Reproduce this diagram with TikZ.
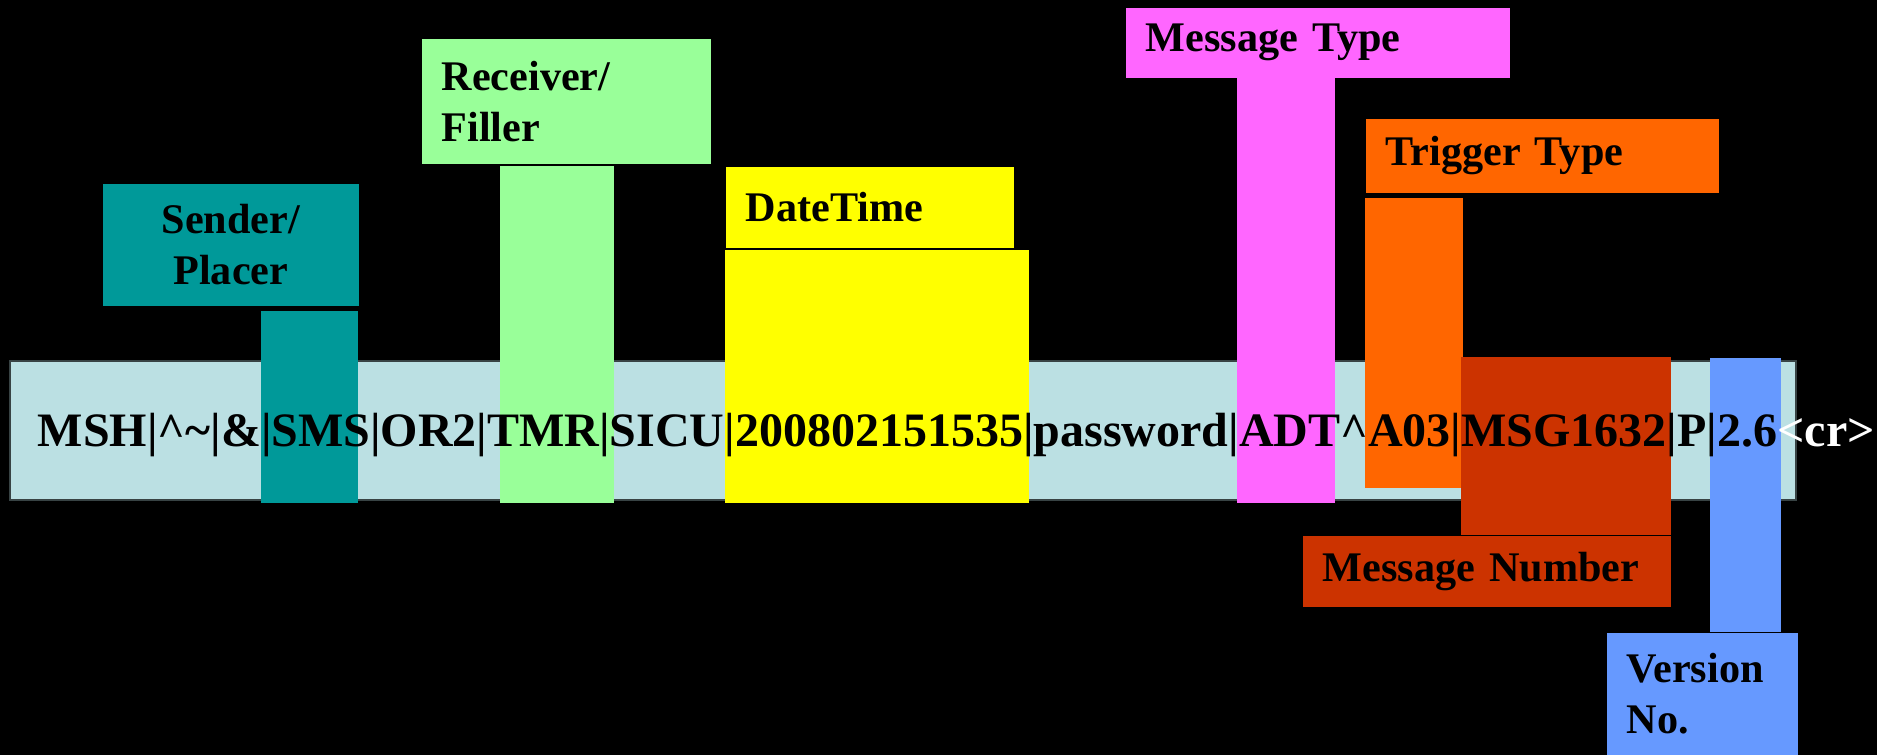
\documentclass[tikz,border=0pt]{standalone}
\usepackage{fontspec}
\setmainfont{Liberation Serif}
\usetikzlibrary{positioning}
\definecolor{segband}{HTML}{BBE0E3}
\definecolor{sendercol}{HTML}{009999}
\definecolor{receivercol}{HTML}{99FF99}
\definecolor{datecol}{HTML}{FFFF00}
\definecolor{typecol}{HTML}{FF66FF}
\definecolor{triggercol}{HTML}{FF6600}
\definecolor{numbercol}{HTML}{CC3300}
\definecolor{versioncol}{HTML}{6699FF}
\newcommand{\msgfont}{\fontsize{13.65}{16}\selectfont\bfseries}
\newcommand{\tagfont}{\fontsize{12}{14.4}\selectfont\bfseries}

\begin{document}
\begin{tikzpicture}[x=0.01cm,y=-0.01cm,
    tag/.style={anchor=north west,inner xsep=0.2cm,inner ysep=0pt,align=left,font=\tagfont,text=black}]
      \fill[black] (0,0) rectangle (1877,755);
      \useasboundingbox (0,0) rectangle (1877,755);

      \draw[fill=segband,draw=black!70!segband] (10,361) rectangle (1796,500);

      \fill[sendercol] (261,311) rectangle (358,503);
      \node[tag,fill=sendercol,minimum width=2.56cm,minimum height=1.22cm,align=center,text width=2.16cm] (sender) at (102,183) {Sender/\\Placer};

      \fill[receivercol] (500,166) rectangle (614,503);
      \node[tag,fill=receivercol,minimum width=2.89cm,minimum height=1.25cm,text width=2.49cm] (receiver) at (421,38) {Receiver/\\Filler};

      \fill[datecol] (725,250) rectangle (1029,503);
      \node[tag,fill=datecol,minimum width=2.88cm,minimum height=0.81cm,text width=2.48cm] (datetime) at (725,166) {DateTime};

      \fill[typecol] (1237,77) rectangle (1335,503);
      \node[tag,fill=typecol,minimum width=3.84cm,minimum height=0.70cm,text width=3.44cm] (msgtype) at (1125,7) {Message Type};

      \fill[triggercol] (1365,198) rectangle (1463,488);
      \node[tag,fill=triggercol,minimum width=3.53cm,minimum height=0.74cm,text width=3.13cm] (trigger) at (1365,118) {Trigger Type};

      \fill[numbercol] (1461,357) rectangle (1671,535);
      \node[tag,fill=numbercol,minimum width=3.68cm,minimum height=0.71cm,text width=3.28cm] (msgnum) at (1302,535) {Message Number};

      \fill[versioncol] (1710,358) rectangle (1781,632);
      \node[tag,fill=versioncol,minimum width=1.91cm,minimum height=1.22cm,text width=1.51cm] (version) at (1606,632) {Version\\No.};

      \node[anchor=base west,inner sep=0pt,font=\msgfont] (msg) at (37,446)
        {MSH|\textasciicircum\textasciitilde|\&|SMS|OR2|TMR|SICU|200802151535|password|ADT\textasciicircum A03|MSG1632|P|2.6\textcolor{white}{<cr>}};
    \end{tikzpicture}
\end{document}
